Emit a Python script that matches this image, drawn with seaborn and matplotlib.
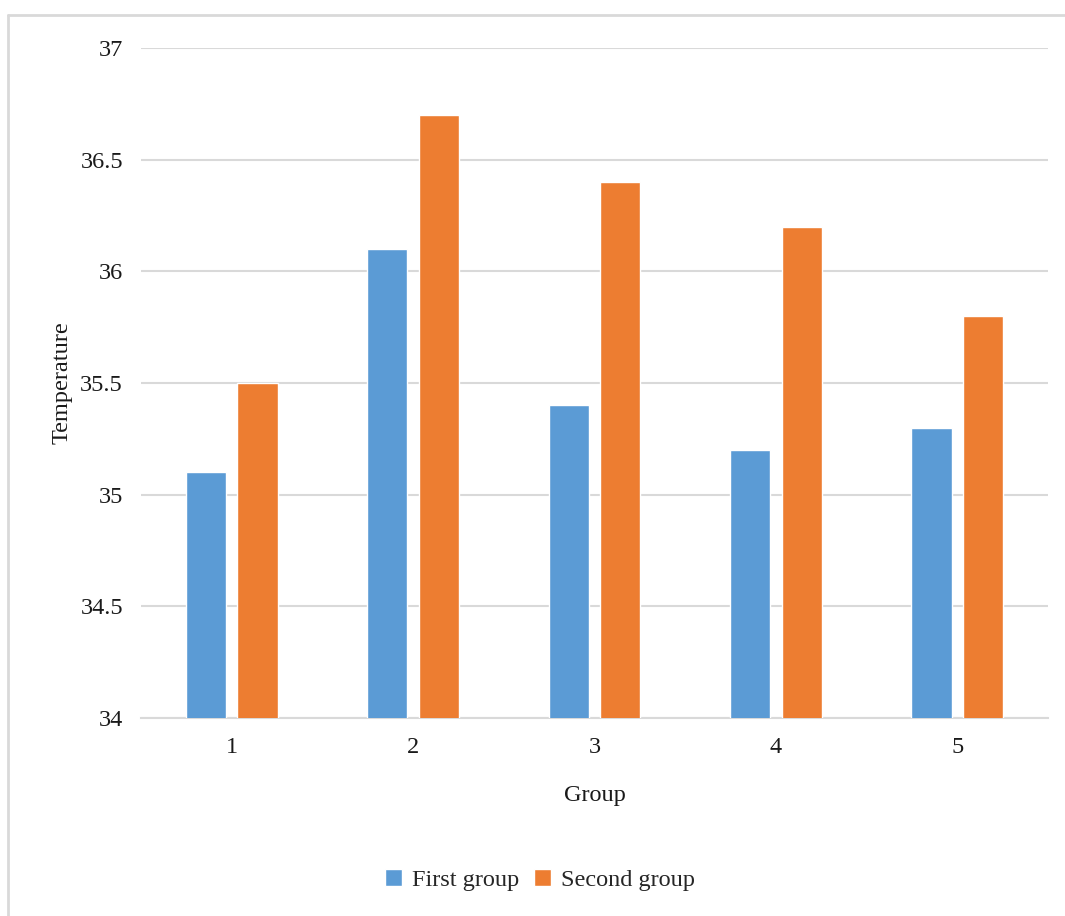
import matplotlib
matplotlib.use("Agg")
import matplotlib.pyplot as plt
import seaborn as sns
import pandas as pd
from matplotlib.lines import Line2D

groups = ["1", "2", "3", "4", "5"]
first_group = [35.1, 36.1, 35.4, 35.2, 35.3]
second_group = [35.5, 36.7, 36.4, 36.2, 35.8]
series_names = ["First group", "Second group"]
yticks = [34, 34.5, 35, 35.5, 36, 36.5, 37]
ytick_labels = ["34", "34.5", "35", "35.5", "36", "36.5", "37"]

df = pd.DataFrame({
    "Group": groups * 2,
    "Temperature": first_group + second_group,
    "Series": [series_names[0]] * len(groups) + [series_names[1]] * len(groups),
})

sns.set_theme(style="white")
plt.rcParams["font.family"] = ["Liberation Serif", "DejaVu Serif"]

fig = plt.figure(figsize=(10.65, 9.16), dpi=100)
ax = fig.add_axes([0.1324, 0.2162, 0.984 - 0.1324, 0.9476 - 0.2162])

sns.barplot(data=df, x="Group", y="Temperature", hue="Series",
            palette=["#5B9BD5", "#ED7D31"], width=0.568, gap=0.22,
            saturation=1, ax=ax, legend=True, zorder=3)

ax.set_ylim(34, 37)
ax.set_yticks(yticks)
ax.set_yticklabels(ytick_labels)
ax.yaxis.grid(True, color="#d9d9d9", linewidth=1.5, zorder=0)
ax.set_axisbelow(True)
for s in ["top", "right", "left"]:
    ax.spines[s].set_visible(False)
ax.spines["bottom"].set_color("#d9d9d9")
ax.spines["bottom"].set_linewidth(1.5)
ax.tick_params(axis="both", length=0, labelsize=17.5, colors="#1a1a1a")
ax.tick_params(axis="y", pad=13)
ax.tick_params(axis="x", pad=14)

ax.set_xlabel("Group", fontsize=17.5, color="#1a1a1a")
ax.set_ylabel("Temperature", fontsize=17.5, color="#1a1a1a")
ax.xaxis.set_label_coords(0.5, -0.1)
ax.yaxis.set_label_coords(-0.076, 0.5)

handles, labels = ax.get_legend_handles_labels()
ax.get_legend().remove()
fig.legend(handles, labels, loc="center", bbox_to_anchor=(0.507, 0.0393),
           ncol=2, frameon=False, fontsize=17.5, handlelength=0.7,
           handleheight=0.7, handletextpad=0.4, columnspacing=0.6)

# outer chart frame
fig.add_artist(Line2D([0.0075, 1.0], [0.9836, 0.9836], transform=fig.transFigure,
                      color="#d9d9d9", linewidth=2))
fig.add_artist(Line2D([0.0075, 0.0075], [0.0, 0.9836], transform=fig.transFigure,
                      color="#d9d9d9", linewidth=2))

fig.savefig("out.png", dpi=100, facecolor="white")
